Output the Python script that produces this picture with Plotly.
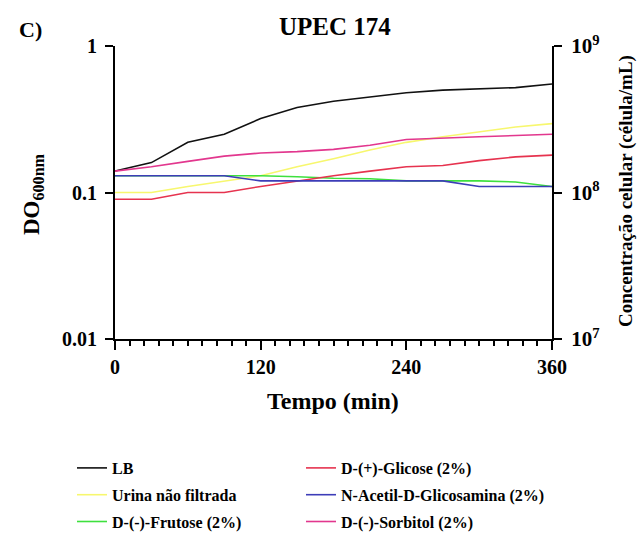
import plotly.graph_objects as go

tempo = [0, 30, 60, 90, 120, 150, 180, 210, 240, 270, 300, 330, 360]
lb = [0.14, 0.16, 0.22, 0.25, 0.32, 0.38, 0.42, 0.45, 0.48, 0.50, 0.51, 0.52, 0.55]
urina = [0.10, 0.10, 0.11, 0.12, 0.13, 0.15, 0.17, 0.195, 0.22, 0.24, 0.26, 0.28, 0.295]
frutose = [0.13, 0.13, 0.13, 0.13, 0.13, 0.128, 0.125, 0.124, 0.12, 0.12, 0.12, 0.118, 0.11]
glicose = [0.09, 0.09, 0.10, 0.10, 0.11, 0.12, 0.13, 0.14, 0.15, 0.153, 0.165, 0.175, 0.18]
nacetil = [0.13, 0.13, 0.13, 0.13, 0.12, 0.12, 0.12, 0.12, 0.12, 0.12, 0.11, 0.11, 0.11]
sorbitol = [0.14, 0.15, 0.163, 0.177, 0.186, 0.19, 0.197, 0.21, 0.23, 0.236, 0.24, 0.245, 0.25]

series = [
    ("LB", lb, "#111111", "legend"),
    ("Urina não filtrada", urina, "#f7f76e", "legend"),
    ("D-(-)-Frutose (2%)", frutose, "#3ee03e", "legend"),
    ("D-(+)-Glicose (2%)", glicose, "#e6334f", "legend2"),
    ("N-Acetil-D-Glicosamina (2%)", nacetil, "#3d3db8", "legend2"),
    ("D-(-)-Sorbitol (2%)", sorbitol, "#e2378e", "legend2"),
]

FONT = "Liberation Serif"
W, H = 644, 533
L, R, T, B = 115, 92, 46, 194
pw, ph = W - L - R, H - T - B

def px(x):
    return (x - L) / pw

def py(y):
    return (H - B - y) / ph

fig = go.Figure()
for name, vals, col, lg in series:
    fig.add_trace(go.Scatter(
        x=tempo, y=vals, mode="lines", name=name,
        line=dict(color=col, width=1.6),
        legend=lg, legendgroup=name,
    ))

# invisible trace so the right axis is drawn
fig.add_trace(go.Scatter(x=[0], y=[1e8], yaxis="y2", mode="markers",
                         marker=dict(opacity=0), showlegend=False, hoverinfo="skip"))

tickfont = dict(family=FONT, size=20, color="black", weight="bold")
legfont = dict(family=FONT, size=16, color="black", weight="bold")

fig.update_layout(
    width=W, height=H,
    margin=dict(l=L, r=R, t=T, b=B, autoexpand=False),
    paper_bgcolor="white", plot_bgcolor="white",
    font=dict(family=FONT, color="black"),
    xaxis=dict(
        range=[0, 360], tickvals=[0, 120, 240, 360],
        ticks="outside", ticklen=9, tickwidth=2, tickcolor="black",
        showline=True, linewidth=2, linecolor="black",
        showgrid=False, zeroline=False,
        tickfont=tickfont,
        minor=dict(dtick=12, ticks="outside", ticklen=5, tickwidth=2,
                   tickcolor="black", showgrid=False),
    ),
    yaxis=dict(
        type="log", range=[-2, 0],
        tickvals=[0.01, 0.1, 1], ticktext=["0.01", "0.1", "1"],
        ticks="outside", ticklen=8, tickwidth=2, tickcolor="black",
        showline=True, linewidth=2, linecolor="black",
        showgrid=False, zeroline=False, ticklabelstandoff=4,
        tickfont=tickfont,
    ),
    yaxis2=dict(
        type="log", range=[7, 9], overlaying="y", side="right",
        tickvals=[1e7, 1e8, 1e9],
        ticktext=["10<sup>7</sup>", "10<sup>8</sup>", "10<sup>9</sup>"],
        ticks="outside", ticklen=8, tickwidth=2, tickcolor="black",
        showline=True, linewidth=2, linecolor="black",
        showgrid=False, zeroline=False, ticklabelstandoff=5,
        tickfont=dict(family=FONT, size=21, color="black", weight="bold"),
    ),
    legend=dict(
        x=px(72), y=py(451), xanchor="left", yanchor="top",
        font=legfont, bgcolor="rgba(0,0,0,0)", itemwidth=30, tracegroupgap=3,
    ),
    legend2=dict(
        x=px(301), y=py(451), xanchor="left", yanchor="top",
        font=legfont, bgcolor="rgba(0,0,0,0)", itemwidth=30, tracegroupgap=3,
    ),
    showlegend=True,
)

def ann(text, x, y, size, angle=0):
    return dict(text=text, x=px(x), y=py(y), xref="paper", yref="paper",
                xanchor="center", yanchor="middle", showarrow=False,
                textangle=angle, font=dict(family=FONT, size=size, color="black"))

annotations = [
    ann("<b>C)</b>", 30, 29, 22),
    ann("<b>UPEC 174</b>", 335, 27, 25),
    ann("<b>Tempo (min)</b>", 333, 401, 24),
    ann("<b>DO<sub>600nm</sub></b>", 33, 194, 23, -90),
    ann("<b>Concentração celular (célula/mL)</b>", 626, 191, 19, -90),
]
fig.update_layout(annotations=annotations)

fig.write_html("out.html")
